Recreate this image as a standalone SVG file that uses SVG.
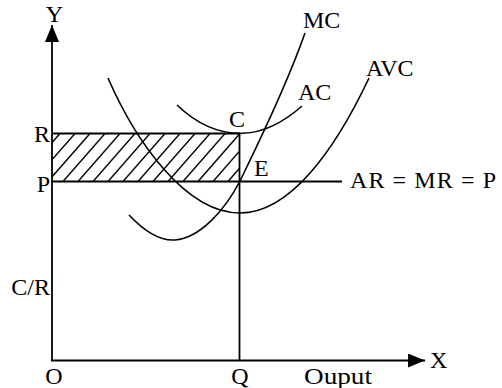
<svg xmlns="http://www.w3.org/2000/svg" width="502" height="388" viewBox="0 0 502 388">
<style>
  .lbl { font-family: "Liberation Serif", "Times New Roman", serif; font-size: 24px; fill: #000; }
  .axis { stroke: #000; stroke-width: 1.8; fill: none; }
  .curve { stroke: #000; stroke-width: 1.6; fill: none; }
  .guide { stroke: #000; stroke-width: 1.8; fill: none; }
  .hatch { stroke: #000; stroke-width: 1.4; }
</style>
<defs>
  <marker id="arrow" markerUnits="userSpaceOnUse" markerWidth="18" markerHeight="14" refX="17" refY="7" orient="auto">
    <path d="M0,0 L17,7 L0,14 Z" fill="#000"/>
  </marker>
  <clipPath id="rectClip">
    <rect x="52" y="133.5" width="187" height="48"/>
  </clipPath>
</defs>
<rect width="502" height="388" fill="#fff"/>

<g id="connectors">
  <!-- axes -->
  <line class="axis" x1="52" y1="361" x2="52" y2="25" marker-end="url(#arrow)"/>
  <line class="axis" x1="51" y1="360.5" x2="425" y2="360.5" marker-end="url(#arrow)"/>
  <!-- shaded area -->
  <g id="shaded" clip-path="url(#rectClip)">
    <line class="hatch" x1="18" y1="181.5" x2="60" y2="133.5"/>
    <line class="hatch" x1="33" y1="181.5" x2="75" y2="133.5"/>
    <line class="hatch" x1="48" y1="181.5" x2="90" y2="133.5"/>
    <line class="hatch" x1="63" y1="181.5" x2="105" y2="133.5"/>
    <line class="hatch" x1="78" y1="181.5" x2="120" y2="133.5"/>
    <line class="hatch" x1="93" y1="181.5" x2="135" y2="133.5"/>
    <line class="hatch" x1="108" y1="181.5" x2="150" y2="133.5"/>
    <line class="hatch" x1="123" y1="181.5" x2="165" y2="133.5"/>
    <line class="hatch" x1="138" y1="181.5" x2="180" y2="133.5"/>
    <line class="hatch" x1="153" y1="181.5" x2="195" y2="133.5"/>
    <line class="hatch" x1="168" y1="181.5" x2="210" y2="133.5"/>
    <line class="hatch" x1="183" y1="181.5" x2="225" y2="133.5"/>
    <line class="hatch" x1="198" y1="181.5" x2="240" y2="133.5"/>
    <line class="hatch" x1="213" y1="181.5" x2="255" y2="133.5"/>
    <line class="hatch" x1="228" y1="181.5" x2="270" y2="133.5"/>
  </g>
  <!-- R line -->
  <line class="guide" x1="52" y1="133.5" x2="239.5" y2="133.5"/>
  <!-- P / AR = MR = P line -->
  <line class="guide" x1="52" y1="181.5" x2="342" y2="181.5"/>
  <!-- CQ vertical -->
  <line class="guide" x1="239.5" y1="133" x2="239.5" y2="360.5"/>
</g>

<g id="curve-ac">
  <path class="curve" d="M177,105 C200,127 222,134 243,133.3 C265,132.5 285,121 302,106"/>
</g>
<g id="curve-mc">
  <path class="curve" d="M129,215 C145,232 160,241 175,240 C200,238 225,210 240,181 C255,150 285,90 305,33"/>
</g>
<g id="curve-avc">
  <path class="curve" d="M108,78 C135,140 185,213 240,213 C290,213 335,150 369,78"/>
</g>

<g id="labels">
  <text class="lbl" x="54.5" y="22" text-anchor="middle">Y</text>
  <text class="lbl" x="430" y="368">X</text>
  <text class="lbl" x="54" y="384" text-anchor="middle">O</text>
  <text class="lbl" x="240" y="384" text-anchor="middle">Q</text>
  <text class="lbl" x="304" y="384" textLength="68" lengthAdjust="spacingAndGlyphs">Ouput</text>
  <text class="lbl" x="50" y="295" text-anchor="end">C/R</text>
  <text class="lbl" x="50" y="142" text-anchor="end">R</text>
  <text class="lbl" x="50" y="192" text-anchor="end">P</text>
  <text class="lbl" x="229" y="127">C</text>
  <text class="lbl" x="254" y="176">E</text>
  <text class="lbl" x="350" y="188" textLength="146" lengthAdjust="spacing">AR = MR = P</text>
  <text class="lbl" x="303" y="28">MC</text>
  <text class="lbl" x="298" y="100">AC</text>
  <text class="lbl" x="366" y="76">AVC</text>
</g>
</svg>
